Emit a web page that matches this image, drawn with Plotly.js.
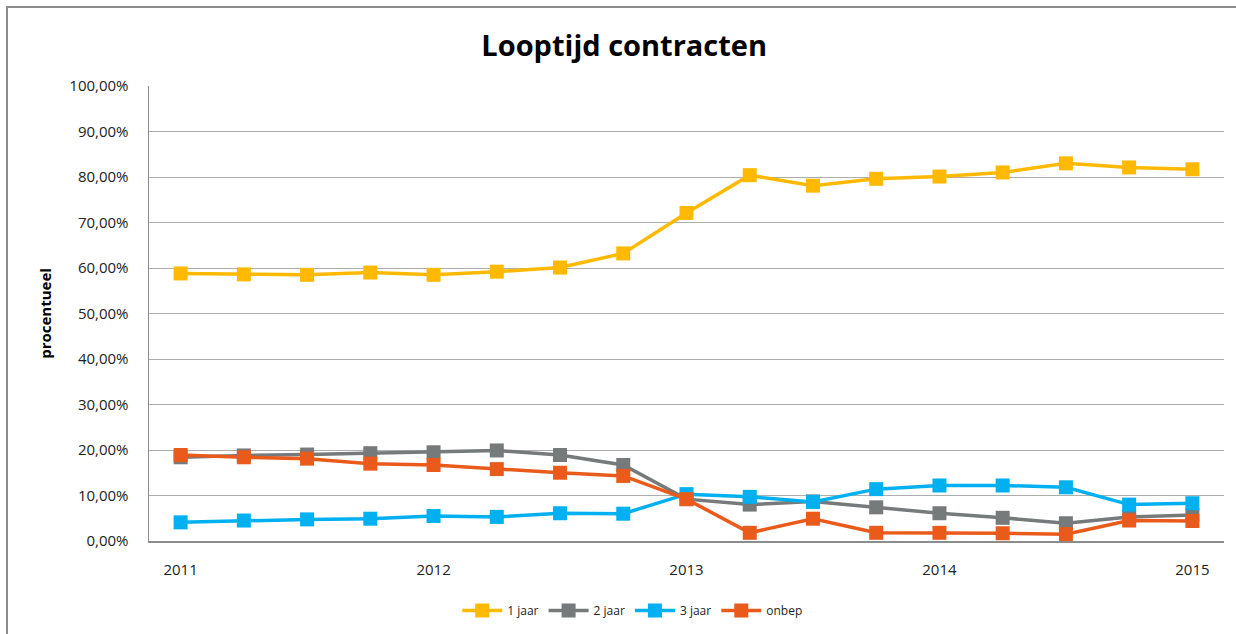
<!DOCTYPE html>
<html>
<head>
<meta charset="utf-8">
<script src="https://cdn.plot.ly/plotly-3.0.1.min.js"></script>
<style>
  html, body { margin: 0; padding: 0; background: #fff; }
  #chart { width: 1236px; height: 634px; }
  #frame { position: absolute; left: 6px; top: 6px; width: 1240px; height: 640px;
           border-left: 2px solid #8c8c8c; border-top: 2px solid #8c8c8c; pointer-events: none; }
</style>
</head>
<body>
<div id="chart"></div>
<div id="frame"></div>
<script>
// Periods (quarters), labelled by year every 4th point
const periods = [2011, 2011.25, 2011.5, 2011.75, 2012, 2012.25, 2012.5, 2012.75,
                 2013, 2013.25, 2013.5, 2013.75, 2014, 2014.25, 2014.5, 2014.75, 2015];
const xTickVals = [2011, 2012, 2013, 2014, 2015];
const xTickText = ["2011", "2012", "2013", "2014", "2015"];

const jaar1 = [58.8, 58.6, 58.5, 59.0, 58.5, 59.2, 60.1, 63.2, 72.1, 80.4, 78.1, 79.6, 80.1, 81.0, 83.0, 82.1, 81.7];
const jaar2 = [18.4, 18.8, 19.0, 19.3, 19.5, 19.9, 18.9, 16.7, 9.2, 8.0, 8.7, 7.4, 6.1, 5.1, 3.9, 5.3, 5.7];
const jaar3 = [4.1, 4.5, 4.75, 4.9, 5.5, 5.3, 6.1, 6.0, 10.3, 9.7, 8.6, 11.4, 12.2, 12.2, 11.8, 8.0, 8.3];
const onbep = [18.9, 18.4, 18.1, 17.0, 16.7, 15.8, 15.0, 14.3, 9.2, 1.8, 4.9, 1.8, 1.8, 1.7, 1.5, 4.5, 4.4];

const seriesNames = ["1 jaar", "2 jaar", "3 jaar", "onbep"];
const seriesColors = ["#FFB900", "#767A7A", "#00B0F0", "#EA5B1B"];
const seriesData = [jaar1, jaar2, jaar3, onbep];

const yTickVals = [0, 10, 20, 30, 40, 50, 60, 70, 80, 90, 100];
const yTickText = ["0,00%", "10,00%", "20,00%", "30,00%", "40,00%", "50,00%",
                   "60,00%", "70,00%", "80,00%", "90,00%", "100,00%"];

const traces = seriesData.map((vals, i) => ({
  x: periods,
  y: vals,
  name: seriesNames[i],
  type: "scatter",
  mode: "lines+markers",
  line: { color: seriesColors[i], width: 3.5 },
  marker: { color: seriesColors[i], symbol: "square", size: 14 },
  hoverinfo: "x+y+name"
}));

const font = "'Open Sans', 'Liberation Sans', sans-serif";

const layout = {
  width: 1236,
  height: 634,
  margin: { l: 149, r: 12, t: 86, b: 93 },
  paper_bgcolor: "#ffffff",
  plot_bgcolor: "#ffffff",
  font: { family: font, size: 15, color: "#222" },
  title: {
    text: "<b>Looptijd contracten</b>",
    font: { family: font, size: 29, color: "#000" },
    x: 0.505, xanchor: "center",
    y: 0.928, yanchor: "middle"
  },
  xaxis: {
    range: [2010.875, 2015.125],
    tickvals: xTickVals,
    ticktext: xTickText,
    showgrid: false,
    zeroline: false,
    showline: true,
    linecolor: "#8c8c8c",
    linewidth: 1.5,
    ticks: "",
    automargin: false,
    ticklabelstandoff: 14,
    tickfont: { family: font, size: 15, color: "#222" }
  },
  yaxis: {
    range: [0, 100],
    tickvals: yTickVals,
    ticktext: yTickText,
    showgrid: true,
    gridcolor: "#adadad",
    gridwidth: 1,
    zeroline: false,
    showline: true,
    linecolor: "#8c8c8c",
    linewidth: 1.5,
    ticks: "",
    automargin: false,
    ticklabelstandoff: 16,
    tickfont: { family: font, size: 15, color: "#222" },
    title: {
      text: "<b>procentueel</b>",
      font: { family: font, size: 15, color: "#000" },
      standoff: 14
    }
  },
  showlegend: true,
  legend: {
    orientation: "h",
    xref: "paper",
    x: 0.45, xanchor: "center",
    yref: "container",
    y: 0.037, yanchor: "middle",
    font: { family: font, size: 12, color: "#222" },
    itemwidth: 40,
    traceorder: "normal"
  }
};

Plotly.newPlot("chart", traces, layout, { displayModeBar: false, staticPlot: true });
</script>
</body>
</html>
